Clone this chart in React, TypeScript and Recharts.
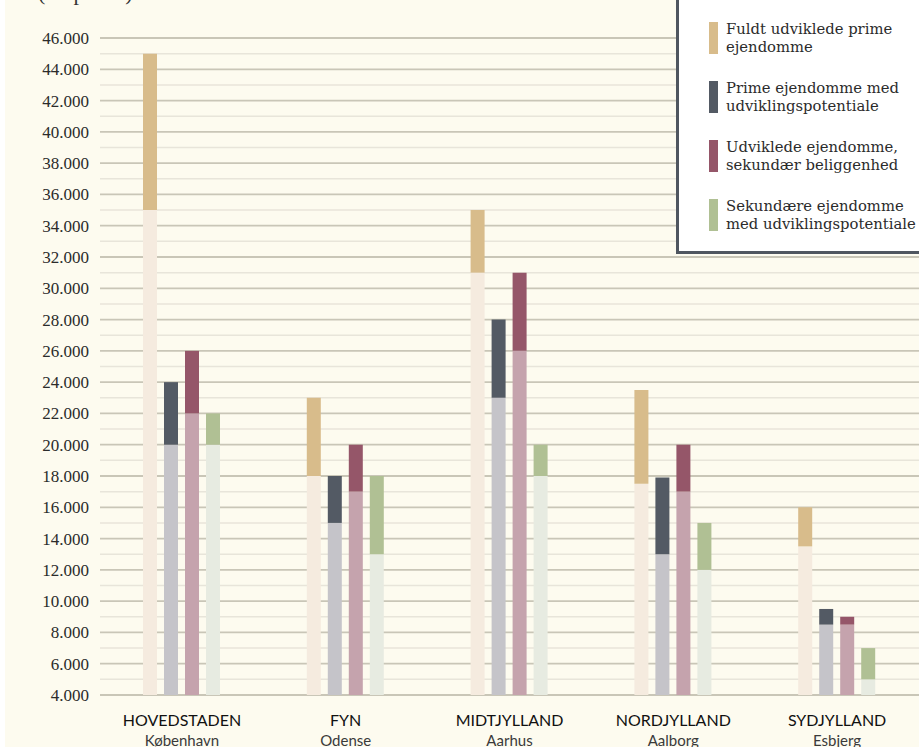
import { BarChart, Bar, XAxis, YAxis, CartesianGrid, Legend } from 'recharts'

const categories = ['HOVEDSTADEN', 'FYN', 'MIDTJYLLAND', 'NORDJYLLAND', 'SYDJYLLAND']
const cities = ['København', 'Odense', 'Aarhus', 'Aalborg', 'Esbjerg']

const seriesNames = [
  ['Fuldt udviklede prime', 'ejendomme'],
  ['Prime ejendomme med', 'udviklingspotentiale'],
  ['Udviklede ejendomme,', 'sekundær beliggenhed'],
  ['Sekundære ejendomme', 'med udviklingspotentiale'],
]
const darkColors = ['#d8bc8b', '#535a64', '#955669', '#b0c094']
const lightColors = ['#f5ebdf', '#c5c4c9', '#c5a3ad', '#e7ebe1']

// lower part ends / upper part ends (kr. pr. m²)
const fuldtLow = [35000, 18000, 31000, 17500, 13500]
const fuldtHigh = [45000, 23000, 35000, 23500, 16000]
const primeLow = [20000, 15000, 23000, 13000, 8500]
const primeHigh = [24000, 18000, 28000, 17900, 9500]
const udvLow = [22000, 17000, 26000, 17000, 8500]
const udvHigh = [26000, 20000, 31000, 20000, 9000]
const sekLow = [20000, 13000, 18000, 12000, 5000]
const sekHigh = [22000, 18000, 20000, 15000, 7000]

const yTicks = [4000, 6000, 8000, 10000, 12000, 14000, 16000, 18000, 20000, 22000, 24000,
  26000, 28000, 30000, 32000, 34000, 36000, 38000, 40000, 42000, 44000, 46000]
const minorLines = [5000, 7000, 9000, 11000, 13000, 15000, 17000, 19000, 21000, 23000, 25000,
  27000, 29000, 31000, 33000, 35000, 37000, 39000, 41000, 43000, 45000]

const lows = [fuldtLow, primeLow, udvLow, sekLow]
const highs = [fuldtHigh, primeHigh, udvHigh, sekHigh]

const data = categories.map((name, i) => {
  const row: Record<string, string | number> = { name, city: cities[i] }
  lows.forEach((low, s) => {
    row['l' + s] = low[i]
    row['h' + s] = highs[s][i] - low[i]
  })
  return row
})

const fmt = (v: number) => v.toLocaleString('de-DE')

function CategoryTick(props: any) {
  const { x, y, payload, index } = props
  return (
    <g>
      <text x={x} y={y + 23} textAnchor="middle" fontFamily="Lato" fontSize={16}
        fill="#111">{payload.value}</text>
      <text x={x} y={y + 43} textAnchor="middle" fontFamily="Lato" fontSize={15}
        fill="#3a3a3a">{cities[index]}</text>
    </g>
  )
}

function LegendBox() {
  return (
    <div style={{
      position: 'absolute', left: 671, top: -12, width: 270, height: 266,
      background: '#ffffff', border: '3px solid #4f5660', boxSizing: 'border-box',
    }}>
      {seriesNames.map((lines, i) => (
        <div key={i} style={{ position: 'absolute', left: 30, top: 29 + i * 59, display: 'flex' }}>
          <div style={{ width: 9, height: 32, background: darkColors[i], marginTop: 2 }} />
          <div style={{
            marginLeft: 8, fontFamily: 'DejaVu Serif', fontSize: 14.8, lineHeight: '18px',
            color: '#2b2b2b', whiteSpace: 'nowrap',
          }}>
            {lines[0]}<br />{lines[1]}
          </div>
        </div>
      ))}
    </div>
  )
}

export default function App() {
  return (
    <div style={{ position: 'absolute', left: 0, top: 0, width: 919, height: 747, background: '#ffffff', overflow: 'hidden' }}>
      <div style={{ position: 'absolute', left: 5, top: 0, width: 914, height: 747, background: '#fdfbef' }}>
        <div style={{
          position: 'absolute', left: 33, top: -20, fontFamily: 'Liberation Serif', fontSize: 22,
          color: '#333',
        }}>(kr. pr. m²)</div>
        <BarChart width={914} height={747} data={data}
          margin={{ top: 38, right: 0, bottom: 0, left: 0 }}
          barSize={14} barGap={7}>
          <CartesianGrid vertical={false} horizontalValues={minorLines} stroke="#e8e5da" strokeWidth={1.5} />
          <CartesianGrid vertical={false} horizontalValues={yTicks} stroke="#c9c6b7" strokeWidth={1.8} />
          <XAxis dataKey="name" axisLine={false} tickLine={false} height={52}
            interval={0} tick={<CategoryTick />} />
          <YAxis width={95} domain={[4000, 46000]} ticks={yTicks} allowDataOverflow
            axisLine={false} tickLine={false} tickFormatter={fmt} tickMargin={5}
            tick={{ fontFamily: 'Liberation Serif', fontSize: 17, fill: '#2b2b2b' }} />
          {lows.map((_, s) => [
            <Bar key={'l' + s} dataKey={'l' + s} stackId={'s' + s} fill={lightColors[s]}
              isAnimationActive={false} />,
            <Bar key={'h' + s} dataKey={'h' + s} stackId={'s' + s} fill={darkColors[s]}
              isAnimationActive={false} />,
          ])}
          <Legend content={() => <LegendBox />} wrapperStyle={{ position: 'absolute', left: 0, top: 0, width: 0, height: 0 }} />
        </BarChart>
      </div>
    </div>
  )
}
